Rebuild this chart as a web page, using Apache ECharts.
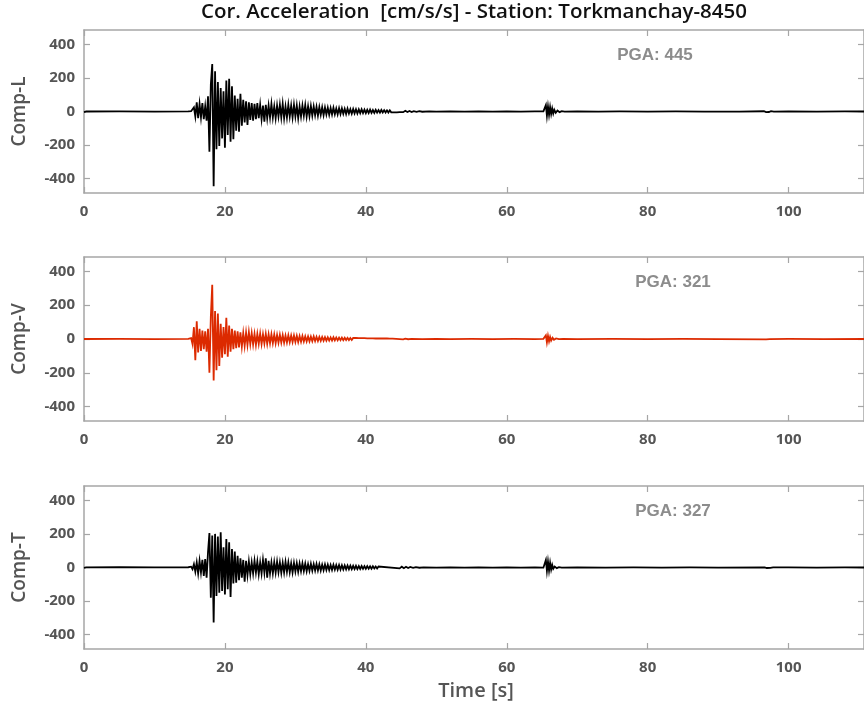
<!DOCTYPE html>
<html>
<head>
<meta charset="utf-8">
<script src="https://cdn.jsdelivr.net/npm/echarts@6/dist/echarts.min.js"></script>
<style>html,body{margin:0;padding:0;background:#fff}#c{width:864px;height:706px}</style>
</head>
<body>
<div id="c"></div>
<script>
// ---- data ----
const title = 'Cor. Acceleration  [cm/s/s] - Station: Torkmanchay-8450';
const components = ['Comp-L', 'Comp-V', 'Comp-T'];
const pga = [445, 321, 327];
const xTicks = [0, 20, 40, 60, 80, 100];
const yTicks = [-400, -200, 0, 200, 400];
const mainStart = 15.0;   // s, first sample of the strong-motion arrays
const mainStep = 0.2;     // s, sampling step of the strong-motion arrays

const L_pre = [[0, -3], [0.3, 0], [5, 0.5], [10, -0.5], [14.8, 0.5]];
const L_main = [0,2,-4,25,-30,55,-40,45,-35,50,-45,30,-55,90,-240,160,283,-445,240,-225,
  175,-205,140,-160,120,-215,185,-140,195,-180,150,-165,95,-115,75,-120,105,-85,70,-65,
  60,-80,55,-50,50,-55,45,-45,50,-40,40,-45,35,-60,40,-40,35,-35,45,-35,
  30,-40,35,-30,40,-35,45,-40,30,-35,40,-30,35,-35,40,-30,35,-40,30,-30,
  35,-25,38,-30,30,-28,32,-25,30,-22,28,-25,26,-20,25,-22,24,-18,22,-20,
  20,-18,22,-16,18,-17,20,-15,18,-14,16,-15,17,-12,14,-13,15,-11,13,-12,
  12,-10,13,-9,11,-10,10,-9,11,-8,9,-8,10,-7,8,-7,9,-6,8,-6,7,-6,7,-5,6,-5,6,-5,5,-4,4];
const L_tail = [[45.3,-4],[45.6,4],[45.9,-3],[46.2,3],[46.5,-3],[46.8,2],[47.2,-2],[47.6,2],[48,-1.5],[49,1],
  [50,-1],[52,1],[54,-1],[56,0.5],[58,-0.5],[60,0.5],[62,-0.5],[64,0.5],[65.2,1],[65.4,-5],[65.55,38],[65.7,-25],
  [65.85,30],[66.0,-20],[66.15,26],[66.3,-15],[66.45,18],[66.6,-12],[66.75,10],[66.95,-8],
  [67.2,6],[67.5,-4],[67.8,2],[68.2,-1],[70,0.5],[73,-0.5],[76,0.5],[80,-0.5],[84,0.5],[88,-0.5],[91,-1],[91.2,1.5],
  [93,-0.5],[96.5,1.5],[96.8,-4],[97,5],[97.2,-3],[97.5,2],[97.9,-1],[100,0.5],[104,-0.5],[108,0.5],[110.7,0]];

const V_pre = [[0, 0], [5, 0.5], [10, -0.5], [14.8, 0.5]];
const V_main = [0,5,-30,70,-125,105,-80,60,-70,50,-60,45,-75,60,-200,130,321,-245,165,-185,
  150,-160,90,-110,70,-90,125,-105,80,-75,60,-60,50,-55,45,-50,40,-45,35,-40,
  38,-35,40,-30,35,-32,30,-35,30,-28,32,-30,28,-26,30,-28,27,-25,28,-24,
  26,-25,24,-22,25,-21,23,-22,20,-20,22,-19,20,-18,21,-17,19,-18,17,-16,
  18,-15,16,-14,15,-14,14,-13,15,-12,13,-12,12,-11,12,-10,11,-10,10,-9,
  9,-9,10,-8,9,-8,8,-7,8,-7,7,-6,7,-6,6,-6,6,-5,6,-5,5,-5,5,-4,
  5,-4,4,-4,4,-3,4,-3,3,-3,3,-3,3,-2,3,-2,3,-2,2,-2,2];
const V_tail = [[45.3,-2],[45.6,2],[46,-1.5],[46.5,1],[48,-0.5],[50,0.5],[52,-0.5],[55,0.5],[58,-0.5],[61,0.5],[64,-0.5],
  [65.2,1],[65.4,-4],[65.55,22],[65.7,-20],[65.85,18],[66.0,-14],[66.15,12],[66.3,-9],
  [66.5,7],[66.7,-5],[67,3],[67.4,-1],[68,0.5],[70,-0.5],[75,0.5],[80,-0.5],[85,0.5],[90,-0.5],[96.8,-2],
  [97,2],[97.3,-1],[100,0.5],[105,-0.5],[110.7,0]];

const T_pre = [[0, -2], [0.3, 1], [5, 1.5], [10, 1], [14.8, 1.5]];
const T_main = [0,5,-10,20,-25,30,-35,40,-30,45,-50,50,-60,90,205,-180,190,-327,200,-170,
  185,-150,210,-140,120,-160,170,-130,150,-175,110,-95,95,-90,70,-75,55,-60,45,-85,
  40,-45,35,-40,30,-35,40,-30,35,-40,30,-35,45,-30,55,-60,40,-35,30,-35,
  32,-30,35,-28,30,-32,28,-30,33,-26,30,-28,25,-30,27,-24,26,-25,24,-22,
  25,-21,23,-22,20,-20,22,-19,20,-18,21,-17,19,-18,17,-16,18,-15,16,-15,
  15,-14,16,-13,14,-13,15,-12,13,-12,12,-11,12,-10,11,-10,10,-9,10,-9,
  9,-8,9,-8,8,-8,8,-7,7,-7,7,-6,6,-6,6];
const T_tail = [[44.8,-5],[45.1,5],[45.4,-4],[45.7,4],[46,-3],[46.3,3],[46.7,-2],[47.1,2],[47.6,-1.5],[48.2,1],
  [50,-0.5],[52,0.5],[54,-0.5],[56,0.5],[58,-0.5],[60,0.5],[62,-0.5],[64,0.5],[65.2,-1],[65.4,5],[65.55,45],[65.7,-20],[65.85,35],
  [66.0,-18],[66.15,28],[66.3,-12],[66.45,15],[66.6,-8],[66.8,6],[67.1,-4],[67.4,2],
  [67.8,-1],[70,0.5],[74,-0.5],[78,0.5],[82,-0.5],[86,0.5],[90,-0.5],[96.6,1],[96.9,-3],[97.1,4],
  [97.4,-2],[97.8,1],[100,0.5],[104,-0.5],[108,0.5],[110.7,0]];

const colors = ['#000000', '#dc2a00', '#000000'];

// ---- build ----
function build(pre, main, tail) {
  const out = pre.slice();
  main.forEach((v, i) => out.push([+(mainStart + i * mainStep).toFixed(2), v]));
  return out.concat(tail);
}
const seriesData = [build(L_pre, L_main, L_tail), build(V_pre, V_main, V_tail), build(T_pre, T_main, T_tail)];

const tops = [30, 257, 486];
const heights = [163, 164, 163];
const axisColor = '#a6a6a6';
const labelColor = '#555555';
const FONT = '"Open Sans", "DejaVu Sans", sans-serif';
const XMAX = 110.7, YLIM = 485;

const grid = [], xAxis = [], yAxis = [], series = [], graphic = [];
const tickStyle = { show: true, inside: true, length: 6, lineStyle: { color: axisColor, width: 1.2 } };
const lineSty = { show: true, onZero: false, lineStyle: { color: axisColor, width: 1.5 } };
for (let i = 0; i < 3; i++) {
  grid.push({ left: 84, top: tops[i], width: 781, height: heights[i], containLabel: false });
  xAxis.push({
    type: 'value', gridIndex: i, min: 0, max: XMAX, interval: 20, position: 'bottom',
    axisLine: lineSty, axisTick: tickStyle,
    axisLabel: { show: true, margin: 11, color: labelColor, fontSize: 15, fontWeight: 'bold', fontFamily: FONT, showMaxLabel: false },
    splitLine: { show: false }
  });
  xAxis.push({
    type: 'value', gridIndex: i, min: 0, max: XMAX, interval: 20, position: 'top',
    axisLine: lineSty, axisTick: tickStyle,
    axisLabel: { show: false }, splitLine: { show: false }
  });
  yAxis.push({
    type: 'value', gridIndex: i, min: -YLIM, max: YLIM, position: 'left',
    name: components[i], nameLocation: 'middle', nameRotate: 90, nameGap: 55,
    nameTextStyle: { color: labelColor, fontSize: 19, fontFamily: FONT, fontWeight: 600 },
    axisLine: lineSty,
    axisTick: Object.assign({}, tickStyle, { customValues: yTicks }),
    axisLabel: { show: true, margin: 9, customValues: yTicks, color: labelColor, fontSize: 15, fontWeight: 'bold', fontFamily: FONT },
    splitLine: { show: false }
  });
  yAxis.push({
    type: 'value', gridIndex: i, min: -YLIM, max: YLIM, position: 'right',
    axisLine: lineSty,
    axisTick: Object.assign({}, tickStyle, { customValues: yTicks }),
    axisLabel: { show: false }, splitLine: { show: false }
  });
  series.push({
    type: 'line', xAxisIndex: 2 * i, yAxisIndex: 2 * i, data: seriesData[i],
    showSymbol: false, symbol: 'none', sampling: null, smooth: false,
    lineStyle: { color: colors[i], width: 1.8, join: 'miter' }, silent: true, animation: false, z: 3
  });
}

graphic.push({ type: 'text', x: 474, y: 12, style: { text: title, align: 'center', verticalAlign: 'middle', fill: '#111', font: '600 20.5px ' + FONT } });
graphic.push({ type: 'text', x: 476, y: 691, style: { text: 'Time [s]', align: 'center', verticalAlign: 'middle', fill: labelColor, font: '600 20px ' + FONT } });
const pgaX = [655, 673, 673], pgaY = [55, 282, 511];
for (let i = 0; i < 3; i++) {
  graphic.push({ type: 'text', x: pgaX[i], y: pgaY[i], z: 10, style: { text: 'PGA: ' + pga[i], align: 'center', verticalAlign: 'middle', fill: '#8c8c8c', font: 'bold 17px "Liberation Sans", Arial, sans-serif' } });
}

const chart = echarts.init(document.getElementById('c'), null, { renderer: 'canvas' });
chart.setOption({ animation: false, backgroundColor: '#fff', grid, xAxis, yAxis, series, graphic });
</script>
</body>
</html>
